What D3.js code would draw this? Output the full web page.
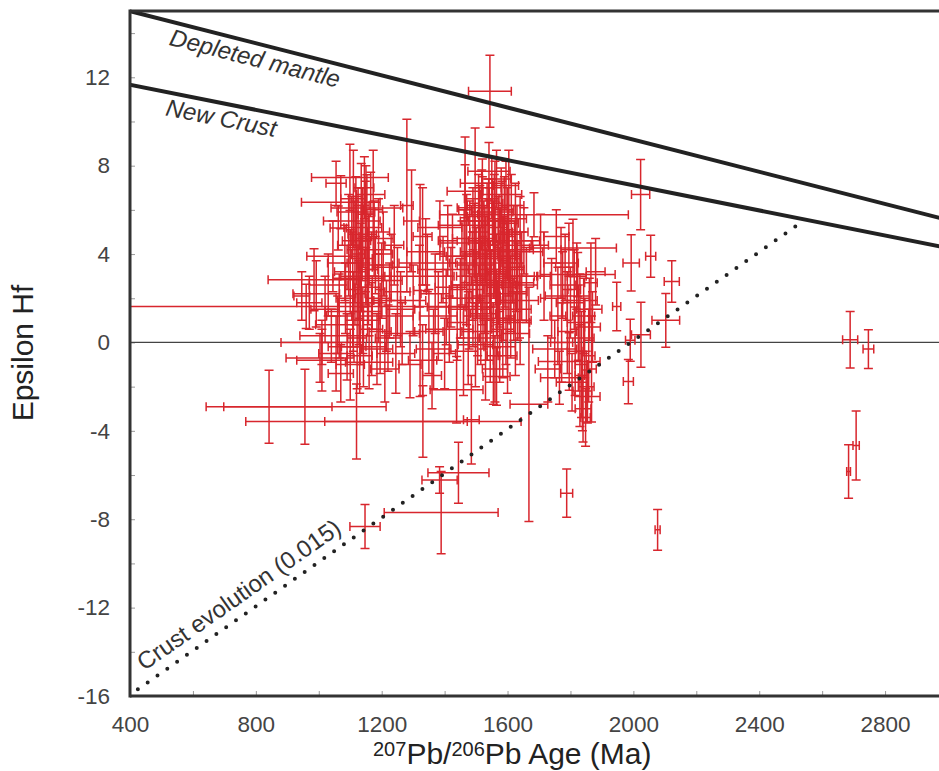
<!DOCTYPE html>
<html>
<head>
<meta charset="utf-8">
<script src="https://cdn.jsdelivr.net/npm/d3@7"></script>
<style>
  body { margin: 0; background: #fff; }
  svg { display: block; font-family: "Liberation Sans", Arial, sans-serif; }
</style>
</head>
<body>
<svg id="chart"></svg>
<script>
// reference curves [age Ma, epsilon Hf]
const depletedMantle = [[0, 16.45], [3000, 5.54]];
const newCrust = [[0, 12.8], [3000, 4.27]];
const crustEvolution = [[425, -15.7], [2540, 5.5]];

const xTicks = d3.range(400, 3001, 200);
const yTicks = d3.range(-16, 15, 2);

// grains: [age, age 2s, eHf, eHf 2s]
const grains1100 = [
  [1099,122,7.47,1.5],[1055,32,7.2,1.0],[1110,40,6.5,2.2],[1173,30,6.0,2.7],
  [1150,25,5.8,2.2],[1145,30,7.0,1.4],[1165,45,6.7,1.0],[1070,125,6.34,1.2],
  [1153,114,6.09,1.5],[1105,90,5.5,1.1],[1062,26,5.18,1.0],[1190,35,5.0,1.5],
  [1140,60,5.2,1.8],[1120,45,4.6,2.0],[1240,30,4.4,1.8],[1160,70,4.2,1.6],
  [1125,20,4.0,3.0],[1045,83,3.9,1.6],[1135,35,3.8,2.4],[1180,55,3.5,1.3],
  [1230,60,3.4,1.5],[1100,50,3.2,1.9],[1125,80,2.9,1.5],[985,146,2.84,1.4],
  [1200,65,2.8,1.7],[1155,40,2.5,2.2],[1250,40,2.3,2.0],[992,74,2.2,1.5],
  [946,25,2.1,1.1],[1085,30,2.0,1.6],[970,40,1.8,1.2],[1170,45,1.8,1.2],
  [1020,45,1.5,1.5],[1110,90,1.4,1.8],[1215,85,1.2,1.6],[1140,55,1.0,1.5],
  [1060,70,0.8,1.3],[1195,35,0.5,1.9],[1265,55,0.4,1.4],[1040,100,0.3,1.2],
  [1010,130,0.0,1.0],[1090,60,-0.2,1.5],[1185,50,-0.3,1.6],[1245,60,-0.5,1.8],
  [1130,40,-0.6,1.7],[1004,108,-0.7,1.1],[1010,80,-0.8,1.4],[1160,75,-0.9,1.2],
  [1290,35,-1.0,1.5],[1210,45,-1.2,1.5],[1070,40,-1.4,1.3],[1280,20,6.2,3.9],
  [1115,25,3.6,2.8],[1132,15,2.2,3.2],[1148,20,4.8,2.5],
  [1095,35,4.4,2.3],[1118,60,5.9,1.6],[1138,45,4.9,2.1],[1158,30,3.3,2.5],
  [1176,60,4.7,1.7],[1108,25,2.4,2.6],[1128,65,1.8,1.9],[1150,80,3.0,1.3],
  [1168,35,0.6,2.1],[1083,55,3.6,1.7],[1065,40,1.2,1.9],[1122,30,0.2,2.3],
  [1142,70,-0.2,1.8],[1190,40,2.0,2.0],[1205,30,4.0,1.9],[1225,50,1.9,1.7],
  [1100,45,-1.0,1.6],[1055,55,-0.5,1.7],[1030,60,2.6,1.4],[1135,25,6.2,1.9],
  [1220,40,0.2,1.5],[1260,45,1.5,1.7]
];

const grains1350 = [
  [1295,25,5.5,2.3],[1330,30,4.8,2.2],[1340,60,4.1,1.5],[1322,20,2.35,4.8],
  [1320,110,3.0,1.4],[1300,40,1.9,1.6],[1370,45,2.2,1.8],[1410,30,4.6,1.6],
  [1385,70,5.2,1.2],[1395,80,3.3,1.5],[1420,50,2.5,1.8],[1380,60,1.2,2.0],
  [1350,45,0.5,1.9],[1400,35,-0.5,1.6],[1360,30,-1.5,1.5],[1438,84,-2.14,1.5],
  [1345,90,3.6,1.3],[1405,60,1.6,1.7],[1425,40,3.9,1.9],[1365,55,-0.3,1.8],
  [1415,75,0.6,1.5],[1330,45,-0.8,1.6]
];

const grains1550 = [
  [1465,20,6.0,3.3],[1497,25,6.2,3.5],[1604,30,5.4,3.3],[1541,67,7.75,1.3],
  [1465,57,6.84,1.2],[1520,80,6.1,1.4],[1684,300,5.78,1.0],[1550,30,7.0,1.4],
  [1580,65,6.7,1.2],[1560,25,6.3,1.9],[1590,30,6.0,1.5],[1540,35,5.8,1.6],
  [1625,35,5.6,1.6],[1490,40,5.5,1.5],[1570,30,5.2,1.4],[1510,30,5.0,2.0],
  [1640,25,5.0,1.6],[1600,40,4.9,2.1],[1525,50,4.6,1.8],[1630,45,4.4,1.8],
  [1555,45,4.2,2.2],[1480,30,4.1,2.3],[1530,40,4.0,1.3],[1605,35,3.9,1.2],
  [1585,55,3.8,1.9],[1455,40,3.6,1.9],[1500,60,3.5,1.7],[1615,30,3.4,1.6],
  [1545,50,3.1,1.5],[1645,40,3.0,2.0],[1520,35,2.8,2.0],[1660,35,2.6,1.7],
  [1575,40,2.5,1.8],[1470,55,2.4,1.6],[1610,50,2.2,1.7],[1490,25,2.0,2.2],
  [1565,60,1.8,1.5],[1535,20,1.6,2.4],[1620,55,1.5,1.4],[1505,45,1.2,1.8],
  [1595,25,1.0,2.0],[1440,30,0.9,1.7],[1515,60,0.5,1.5],[1625,45,0.4,1.9],
  [1545,35,0.2,2.0],[1575,50,-0.2,1.6],[1460,45,-0.4,2.0],[1600,30,-0.6,1.7],
  [1530,25,-0.8,1.8],[1560,40,-1.2,1.5],[1565,43,-1.54,1.3],[1485,25,-3.5,2.0],
  [1668,60,-2.8,5.3],[1512,15,4.5,2.6],[1528,20,3.3,2.9],[1558,18,4.9,2.7],
  [1587,22,2.9,2.8],
  [1470,90,5.3,1.4],[1495,70,4.7,1.6],[1515,110,3.9,1.3],[1535,60,5.5,1.7],
  [1548,85,2.6,1.6],[1562,70,3.6,1.9],[1578,100,4.6,1.5],[1592,60,3.3,1.7],
  [1608,75,2.7,1.5],[1622,90,4.1,1.4],[1638,60,1.9,1.7],[1652,50,4.6,1.5],
  [1478,65,1.5,1.8],[1502,80,2.6,1.5],[1518,55,6.5,1.3],[1532,45,2.1,2.1],
  [1552,65,5.9,1.5],[1568,55,1.1,1.7],[1582,45,5.5,1.8],[1597,85,4.2,1.3],
  [1612,40,6.2,1.4],[1628,65,3.0,1.6],[1488,50,3.0,2.0],[1508,35,5.7,1.9],
  [1542,25,4.4,2.6],[1572,35,3.2,2.4],[1602,20,3.6,2.6],[1632,30,2.3,2.2],
  [1462,75,4.5,1.5],[1450,60,2.0,1.8],[1475,35,0.2,2.1],[1498,55,-0.1,1.9],
  [1522,40,1.3,1.6],[1585,35,0.6,2.2],[1610,60,0.9,1.6],[1640,35,1.0,2.0],
  [1555,20,-0.6,2.2],[1520,70,7.2,1.1],[1565,45,7.4,1.3],[1595,40,7.1,1.1]
];

const grains1800 = [
  [1808,138,4.27,1.3],[1823,119,3.07,1.0],[1705,25,4.4,1.4],[1795,25,4.2,1.2],
  [1770,55,3.6,1.6],[1880,30,3.2,1.5],[1716,20,3.0,2.0],[1820,30,3.0,1.5],
  [1865,20,2.7,1.8],[1775,40,2.6,1.5],[1740,35,2.0,1.8],[1800,45,1.8,1.6],
  [1860,40,1.5,1.4],[1760,25,1.2,2.2],[1825,35,0.9,1.7],[1790,30,0.5,1.9],
  [1845,30,0.2,1.8],[1750,70,-0.3,1.3],[1815,25,-0.4,2.0],[1796,98,-0.86,1.3],
  [1835,20,-1.0,2.4],[1728,40,-1.2,1.5],[1867,15,-1.2,2.4],[1830,15,-1.5,2.3],
  [1850,25,-2.0,1.6],[1854,40,-2.45,1.2],[1840,25,-3.0,1.5],
  [1783,30,3.4,1.5],[1812,20,2.4,1.8],[1842,35,1.2,1.7],[1858,20,-0.6,2.1],
  [1772,35,0.0,1.8],[1805,50,-1.8,1.3],[1838,30,-2.2,1.8],[1848,15,-3.4,1.3],
  [1755,40,4.8,1.2],[1870,25,0.7,1.6],[1790,70,2.1,1.1],[1765,60,-1.6,1.2],
  [1830,55,1.9,1.2]
];

const grainsScattered = [
  [1544,68,11.37,1.63],[960,560,1.63,1.0],[842,200,-2.91,1.65],[956,258,-2.91,1.7],
  [1120,352,-3.58,1.7],[1331,312,-3.58,1.62],[1444,97,-5.9,1.38],[1384,56,-6.22,0.6],
  [1389,181,-7.7,1.86],[1147,48,-8.33,1.0],[1788,19,-6.82,1.09],[2077,8,-8.48,0.92],
  [2023,29,6.69,1.59],[1993,26,3.6,1.27],[2055,16,3.9,0.95],[2122,24,2.76,0.94],
  [1947,13,1.63,1.1],[2103,44,1.0,1.22],[2024,30,0.35,1.47],[1990,15,0.1,0.95],
  [1984,16,-1.77,1.0]
];

const grainsArchean = [
  [2689,24,0.12,1.28],[2747,17,-0.3,0.88],[2708,10,-4.66,1.56],[2684,6,-5.84,1.21]
];

const allGrains = [].concat(grains1100, grains1350, grains1550, grains1800, grainsScattered, grainsArchean);

const width = 939, height = 771;
const x = d3.scaleLinear().domain([400, 3000]).range([130, 948]);
const y = d3.scaleLinear().domain([-16, 15]).range([696, 11]);

const svg = d3.select('#chart')
  .attr('width', width)
  .attr('height', height);

svg.append('defs').append('clipPath').attr('id', 'plotClip')
  .append('rect')
  .attr('x', x(400)).attr('y', y(15))
  .attr('width', x(3000) - x(400)).attr('height', y(-16) - y(15));

// axes (inner ticks)
const xAxis = d3.axisBottom(x)
  .tickValues(xTicks)
  .tickSize(-5)
  .tickPadding(20)
  .tickFormat(d => d % 400 === 0 ? d : '');

const yAxis = d3.axisLeft(y)
  .tickValues(yTicks)
  .tickSize(-5)
  .tickPadding(20)
  .tickFormat(d => d % 4 === 0 ? d : '');

const xAxisG = svg.append('g')
  .attr('transform', `translate(0,${y(-16)})`)
  .call(xAxis);
const yAxisG = svg.append('g')
  .attr('transform', `translate(${x(400)},0)`)
  .call(yAxis);

[xAxisG, yAxisG].forEach(g => {
  g.select('.domain').remove();
  g.selectAll('.tick line').attr('stroke', '#999');
  g.selectAll('.tick text')
    .attr('fill', '#444')
    .style('font-size', '22.5px')
    .style('font-family', '"Liberation Sans", Arial, sans-serif');
});

const plot = svg.append('g').attr('clip-path', 'url(#plotClip)');

// zero line
plot.append('line')
  .attr('x1', x(400)).attr('x2', x(3000))
  .attr('y1', y(0)).attr('y2', y(0))
  .attr('stroke', '#444')
  .attr('stroke-width', 1.2);

// error crosses
const cap = 4.5;
plot.selectAll('path.grain')
  .data(allGrains)
  .join('path')
  .attr('class', 'grain')
  .attr('fill', 'none')
  .attr('stroke', '#d8262d')
  .attr('stroke-width', 1.5)
  .attr('d', d => {
    const xc = x(d[0]), x0 = x(d[0] - d[1]), x1 = x(d[0] + d[1]);
    const yc = y(d[2]), y0 = y(d[2] - d[3]), y1 = y(d[2] + d[3]);
    return `M${x0},${yc}H${x1}` +
      `M${x0},${yc - cap}V${yc + cap}M${x1},${yc - cap}V${yc + cap}` +
      `M${xc},${y0}V${y1}` +
      `M${xc - cap},${y0}H${xc + cap}M${xc - cap},${y1}H${xc + cap}`;
  });

// model lines
const line = d3.line().x(d => x(d[0])).y(d => y(d[1]));

plot.append('path')
  .datum(depletedMantle)
  .attr('d', line)
  .attr('fill', 'none')
  .attr('stroke', '#222')
  .attr('stroke-width', 4);

plot.append('path')
  .datum(newCrust)
  .attr('d', line)
  .attr('fill', 'none')
  .attr('stroke', '#222')
  .attr('stroke-width', 4);

plot.append('path')
  .datum(crustEvolution)
  .attr('d', line)
  .attr('fill', 'none')
  .attr('stroke', '#222')
  .attr('stroke-width', 4)
  .attr('stroke-linecap', 'round')
  .attr('stroke-dasharray', '0 12');

// frame
svg.append('line')
  .attr('x1', x(400)).attr('x2', width)
  .attr('y1', y(15)).attr('y2', y(15))
  .attr('stroke', '#333').attr('stroke-width', 3);
svg.append('line')
  .attr('x1', x(400)).attr('x2', width)
  .attr('y1', y(-16)).attr('y2', y(-16))
  .attr('stroke', '#333').attr('stroke-width', 3);
svg.append('line')
  .attr('x1', x(400)).attr('x2', x(400))
  .attr('y1', y(15) - 1.5).attr('y2', y(-16) + 1.5)
  .attr('stroke', '#333').attr('stroke-width', 3);

// labels along the curves
function curveLabel(pts, atAge, label, dx, dy, italic) {
  const [a, b] = pts;
  const t = (atAge - a[0]) / (b[0] - a[0]);
  const val = a[1] + t * (b[1] - a[1]);
  const angle = Math.atan2(y(b[1]) - y(a[1]), x(b[0]) - x(a[0])) * 180 / Math.PI;
  svg.append('text')
    .attr('transform', `translate(${x(atAge)},${y(val)}) rotate(${angle})`)
    .attr('x', dx)
    .attr('y', dy)
    .attr('fill', '#333')
    .style('font-size', '24px')
    .style('font-style', italic ? 'italic' : 'normal')
    .text(label);
}

curveLabel(depletedMantle, 540, 'Depleted mantle', 0, 23, true);
curveLabel(newCrust, 525, 'New Crust', 0, 23, true);
curveLabel(crustEvolution, 432, 'Crust evolution (0.015)', 13, -11, false);

// axis titles
svg.append('text')
  .attr('transform', 'translate(33,353) rotate(-90)')
  .attr('text-anchor', 'middle')
  .attr('fill', '#222')
  .style('font-size', '30px')
  .text('Epsilon Hf');

const xTitle = svg.append('text')
  .attr('x', 373)
  .attr('y', 764)
  .attr('fill', '#222')
  .style('font-size', '30px');
xTitle.append('tspan').attr('dy', -8).style('font-size', '20px').text('207');
xTitle.append('tspan').attr('dy', 8).text('Pb/');
xTitle.append('tspan').attr('dy', -8).style('font-size', '20px').text('206');
xTitle.append('tspan').attr('dy', 8).text('Pb Age (Ma)');
</script>
</body>
</html>
